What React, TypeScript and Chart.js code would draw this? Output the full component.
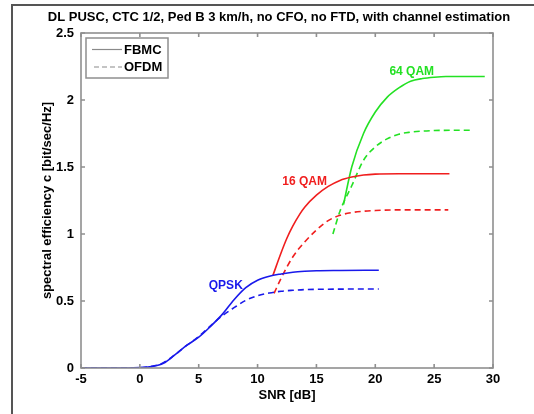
import React, { useEffect, useRef } from "react";
import { Chart, registerables } from "chart.js";

Chart.register(...registerables);

const chartTitle = "DL PUSC, CTC 1/2, Ped B 3 km/h, no CFO, no FTD, with channel estimation";
const xAxisTitle = "SNR [dB]";
const yAxisTitle = "spectral efficiency c [bit/sec/Hz]";
const xTicks = [-5, 0, 5, 10, 15, 20, 25, 30];
const yTicks = [0, 0.5, 1, 1.5, 2, 2.5];
const yTickLabels = ["0", "0.5", "1", "1.5", "2", "2.5"];
const legendLabels = ["FBMC", "OFDM"];

// QPSK
const qpskFbmcSnr = [-5, -3, -1, 0, 1, 2, 3, 4, 5, 6, 7, 8, 9, 10, 11, 12, 13, 14, 15, 17, 20.3];
const qpskFbmcEff = [0, 0, 0, 0.003, 0.01, 0.035, 0.1, 0.17, 0.23, 0.31, 0.4, 0.51, 0.6, 0.655, 0.685, 0.702, 0.715, 0.722, 0.726, 0.728, 0.73];
const qpskOfdmSnr = [-5, -3, -1, 0, 1, 2, 3, 4, 5, 6, 7, 8, 9, 10, 11, 12, 13, 14, 16, 20.3];
const qpskOfdmEff = [0, 0, 0, 0.003, 0.012, 0.04, 0.1, 0.17, 0.235, 0.315, 0.39, 0.45, 0.505, 0.54, 0.56, 0.573, 0.58, 0.585, 0.588, 0.59];

// 16 QAM
const qam16FbmcSnr = [11.3, 12, 12.5, 13, 13.6, 14, 15, 16, 17, 18, 19, 20, 22, 26.3];
const qam16FbmcEff = [0.69, 0.86, 0.97, 1.06, 1.15, 1.2, 1.29, 1.355, 1.4, 1.425, 1.44, 1.447, 1.45, 1.45];
const qam16OfdmSnr = [11.4, 12, 13, 14, 15, 16, 17, 18, 19, 20, 22, 26.2];
const qam16OfdmEff = [0.557, 0.67, 0.83, 0.94, 1.03, 1.1, 1.14, 1.16, 1.17, 1.175, 1.18, 1.18];

// 64 QAM
const qam64FbmcSnr = [17.3, 18, 19, 20, 21, 22, 23, 24, 25, 26, 29.3];
const qam64FbmcEff = [1.22, 1.5, 1.75, 1.91, 2.02, 2.09, 2.14, 2.16, 2.17, 2.175, 2.175];
const qam64OfdmSnr = [16.4, 17, 18, 19, 20, 21, 22, 23, 24, 25, 28.3];
const qam64OfdmEff = [1.0, 1.17, 1.36, 1.55, 1.65, 1.71, 1.745, 1.76, 1.768, 1.772, 1.775];

const curveLabels = ["QPSK", "16 QAM", "64 QAM"];
const curveLabelSnr = [7.3, 14.0, 23.1];
const curveLabelEff = [0.616, 1.39, 2.21];

const BLUE = "rgb(25,25,235)";
const RED = "rgb(240,30,30)";
const GREEN = "rgb(35,225,35)";
const curveColors = [BLUE, RED, GREEN];

const FONT = "'Liberation Sans', Arial, sans-serif";

function pts(xs: number[], ys: number[]) {
  return xs.map((x, i) => ({ x, y: ys[i] }));
}

function series(label: string, xs: number[], ys: number[], color: string, dashed: boolean) {
  return {
    label,
    data: pts(xs, ys),
    borderColor: color,
    backgroundColor: color,
    borderWidth: 1.6,
    borderDash: dashed ? [6, 4] : [],
    pointRadius: 0,
    fill: false,
    cubicInterpolationMode: "monotone" as const,
  };
}

const decorPlugin = {
  id: "decor",
  beforeDraw(chart: any) {
    const ctx = chart.ctx;
    ctx.save();
    ctx.fillStyle = "#ffffff";
    ctx.fillRect(0, 0, chart.width, chart.height);
    ctx.strokeStyle = "#555555";
    ctx.lineWidth = 2;
    ctx.beginPath();
    ctx.moveTo(12, chart.height + 5);
    ctx.lineTo(12, 5);
    ctx.lineTo(chart.width + 5, 5);
    ctx.stroke();
    // title
    ctx.fillStyle = "#000";
    ctx.font = `bold 13px ${FONT}`;
    ctx.textAlign = "center";
    ctx.textBaseline = "middle";
    ctx.fillText(chartTitle, 279, 17);
    ctx.restore();
  },
  afterDatasetsDraw(chart: any) {
    const ctx = chart.ctx;
    const a = chart.chartArea;
    const xs = chart.scales.x;
    const ys = chart.scales.y;
    ctx.save();
    // box
    ctx.strokeStyle = "#8f8f8f";
    ctx.lineWidth = 1.6;
    ctx.setLineDash([]);
    ctx.strokeRect(a.left, a.top, a.right - a.left, a.bottom - a.top);
    // inward ticks
    ctx.beginPath();
    xTicks.forEach((v) => {
      const px = xs.getPixelForValue(v);
      ctx.moveTo(px, a.bottom);
      ctx.lineTo(px, a.bottom - 4);
      ctx.moveTo(px, a.top);
      ctx.lineTo(px, a.top + 4);
    });
    yTicks.forEach((v) => {
      const py = ys.getPixelForValue(v);
      ctx.moveTo(a.left, py);
      ctx.lineTo(a.left + 4, py);
      ctx.moveTo(a.right, py);
      ctx.lineTo(a.right - 4, py);
    });
    ctx.stroke();

    // curve labels
    ctx.font = `bold 12px ${FONT}`;
    ctx.textAlign = "center";
    ctx.textBaseline = "middle";
    curveLabels.forEach((t, i) => {
      ctx.fillStyle = curveColors[i];
      ctx.fillText(t, xs.getPixelForValue(curveLabelSnr[i]), ys.getPixelForValue(curveLabelEff[i]));
    });

    // legend
    const lx = 86, ly = 38, lw = 82, lh = 40;
    ctx.fillStyle = "#fff";
    ctx.fillRect(lx, ly, lw, lh);
    ctx.strokeStyle = "#8f8f8f";
    ctx.lineWidth = 1.5;
    ctx.strokeRect(lx, ly, lw, lh);
    const rows = [49.5, 67];
    legendLabels.forEach((t, i) => {
      ctx.strokeStyle = "#8a8a8a";
      ctx.lineWidth = 1.2;
      ctx.setLineDash(i === 0 ? [] : [5, 3]);
      ctx.beginPath();
      ctx.moveTo(i === 0 ? 92 : 94, rows[i]);
      ctx.lineTo(122, rows[i]);
      ctx.stroke();
      ctx.setLineDash([]);
      ctx.fillStyle = "#000";
      ctx.font = `bold 13px ${FONT}`;
      ctx.textAlign = "left";
      ctx.textBaseline = "middle";
      ctx.fillText(t, 124, rows[i] + 0.5);
    });
    ctx.restore();
  },
};

export default function App() {
  const ref = useRef<HTMLCanvasElement | null>(null);
  useEffect(() => {
    if (!ref.current) return;
    const chart = new Chart(ref.current, {
      type: "line",
      data: {
        datasets: [
          series("QPSK FBMC", qpskFbmcSnr, qpskFbmcEff, BLUE, false),
          series("QPSK OFDM", qpskOfdmSnr, qpskOfdmEff, BLUE, true),
          series("16 QAM FBMC", qam16FbmcSnr, qam16FbmcEff, RED, false),
          series("16 QAM OFDM", qam16OfdmSnr, qam16OfdmEff, RED, true),
          series("64 QAM FBMC", qam64FbmcSnr, qam64FbmcEff, GREEN, false),
          series("64 QAM OFDM", qam64OfdmSnr, qam64OfdmEff, GREEN, true),
        ],
      },
      options: {
        responsive: false,
        animation: false,
        devicePixelRatio: 1,
        layout: { padding: { top: 33, right: 41, left: 0, bottom: 0 } },
        plugins: {
          legend: { display: false },
          tooltip: { enabled: false },
          title: { display: false },
        },
        scales: {
          x: {
            type: "linear",
            min: -5,
            max: 30,
            afterFit: (s: any) => { s.height = 46; },
            afterBuildTicks: (s: any) => { s.ticks = xTicks.map((v) => ({ value: v })); },
            grid: { display: false, drawTicks: false },
            border: { display: false },
            ticks: {
              color: "#000",
              font: { family: FONT, size: 13, weight: "bold" },
              padding: 4,
              maxRotation: 0,
              autoSkip: false,
            },
            title: {
              display: true,
              text: xAxisTitle,
              color: "#000",
              font: { family: FONT, size: 13, weight: "bold" },
              padding: { top: 0, bottom: 11 },
            },
          },
          y: {
            type: "linear",
            min: 0,
            max: 2.5,
            afterFit: (s: any) => { s.width = 81; },
            afterBuildTicks: (s: any) => { s.ticks = yTicks.map((v) => ({ value: v })); },
            grid: { display: false, drawTicks: false },
            border: { display: false },
            ticks: {
              color: "#000",
              font: { family: FONT, size: 13, weight: "bold" },
              padding: 7,
              autoSkip: false,
              callback: (v: any) => {
                const i = yTicks.indexOf(Number(v));
                return i >= 0 ? yTickLabels[i] : "";
              },
            },
            title: {
              display: true,
              text: yAxisTitle,
              color: "#000",
              font: { family: FONT, size: 13, weight: "bold" },
              padding: { top: 40, bottom: 0 },
            },
          },
        },
      },
      plugins: [decorPlugin],
    });
    return () => chart.destroy();
  }, []);
  return (
    <canvas
      ref={ref}
      width={534}
      height={414}
      style={{ position: "fixed", left: 0, top: 0, width: 534, height: 414, display: "block" }}
    />
  );
}
